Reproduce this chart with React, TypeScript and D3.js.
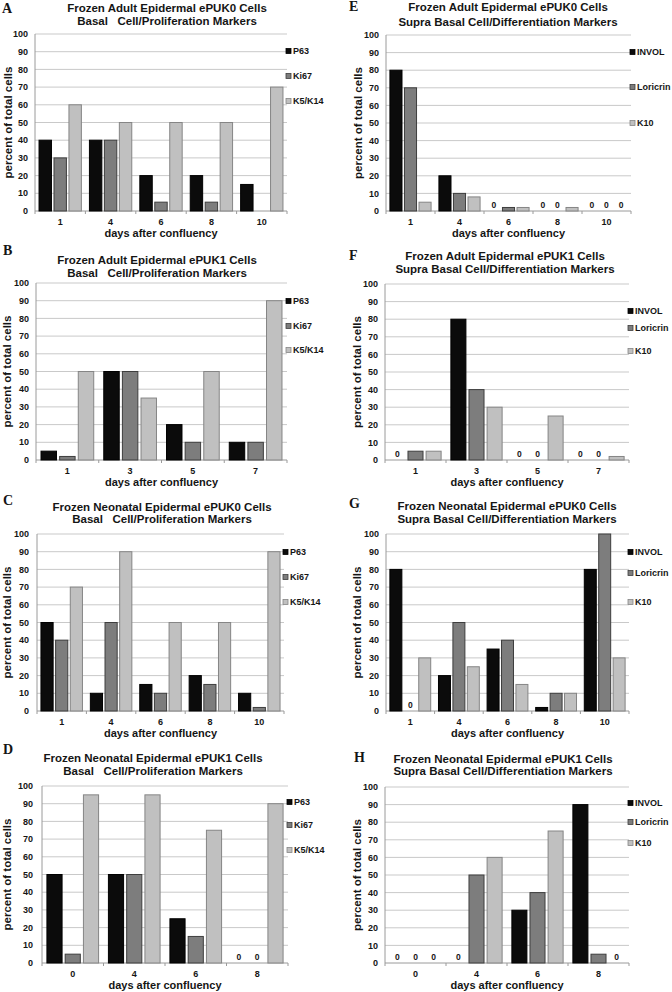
import * as d3 from 'd3'

// marker names
const BASAL = ['P63', 'Ki67', 'K5/K14']
const SUPRA = ['INVOL', 'Loricrin', 'K10']

// A - adult ePUK0, basal
const daysA = ['1', '4', '6', '8', '10']
const p63A = [40, 40, 20, 20, 15]
const ki67A = [30, 40, 5, 5, null]
const k5A = [60, 50, 50, 50, 70]

// B - adult ePUK1, basal
const daysB = ['1', '3', '5', '7']
const p63B = [5, 50, 20, 10]
const ki67B = [2, 50, 10, 10]
const k5B = [50, 35, 50, 90]

// C - neonatal ePUK0, basal
const daysC = ['1', '4', '6', '8', '10']
const p63C = [50, 10, 15, 20, 10]
const ki67C = [40, 50, 10, 15, 2]
const k5C = [70, 90, 50, 50, 90]

// D - neonatal ePUK1, basal
const daysD = ['0', '4', '6', '8']
const p63D = [50, 50, 25, 0]
const ki67D = [5, 50, 15, 0]
const k5D = [95, 95, 75, 90]

// E - adult ePUK0, supra basal
const daysE = ['1', '4', '6', '8', '10']
const involE = [80, 20, 0, 0, 0]
const loriE = [70, 10, 2, 0, 0]
const k10E = [5, 8, 2, 2, 0]

// F - adult ePUK1, supra basal
const daysF = ['1', '3', '5', '7']
const involF = [0, 80, 0, 0]
const loriF = [5, 40, 0, 0]
const k10F = [5, 30, 25, 2]

// G - neonatal ePUK0, supra basal
const daysG = ['1', '4', '6', '8', '10']
const involG = [80, 20, 35, 2, 80]
const loriG = [0, 50, 40, 10, 100]
const k10G = [30, 25, 15, 10, 30]

// H - neonatal ePUK1, supra basal
const daysH = ['0', '4', '6', '8']
const involH = [0, 0, 30, 90]
const loriH = [0, 50, 40, 5]
const k10H = [0, 60, 75, 0]

const yTicks = [0, 10, 20, 30, 40, 50, 60, 70, 80, 90, 100]

const FILL = ['#0b0b0b', '#7d7d7d', '#c0c0c0']
const STROKE = ['#000', '#3e3e3e', '#858585']
const FONT = '"Liberation Sans", Arial, sans-serif'
const INK = '#151515'

const BASAL_T2 = 'Basal   Cell/Proliferation Markers'
const SUPRA_T2 = 'Supra Basal Cell/Differentiation Markers'

const PANELS = [
  { id: 'A', t1: 'Frozen Adult Epidermal ePUK0 Cells', t2: BASAL_T2, names: BASAL, days: daysA, values: [p63A, ki67A, k5A],
    x0: 35, x1: 287, top: 34, bot: 211, tx: 167, t1y: 11.5, t2y: 25, lx: 2, ly: 12.5, leg: [51, 76, 101], ytr: 28, ytx: 8 },
  { id: 'B', t1: 'Frozen Adult Epidermal ePUK1 Cells', t2: BASAL_T2, names: BASAL, days: daysB, values: [p63B, ki67B, k5B],
    x0: 36, x1: 287, top: 283, bot: 460, tx: 157, t1y: 264, t2y: 277, lx: 3, ly: 255, leg: [301, 326, 350], ytr: 29, ytx: 7 },
  { id: 'C', t1: 'Frozen Neonatal Epidermal ePUK0 Cells', t2: BASAL_T2, names: BASAL, days: daysC, values: [p63C, ki67C, k5C],
    x0: 37, x1: 284, top: 534, bot: 711, tx: 162, t1y: 511, t2y: 523, lx: 3, ly: 505, leg: [552, 577, 602], ytr: 29, ytx: 7 },
  { id: 'D', t1: 'Frozen Neonatal Epidermal ePUK1 Cells', t2: BASAL_T2, names: BASAL, days: daysD, values: [p63D, ki67D, k5D],
    x0: 42, x1: 288, top: 786, bot: 963, tx: 153, t1y: 762, t2y: 775, lx: 3, ly: 754, leg: [802, 825, 850], ytr: 33, ytx: 7 },
  { id: 'E', t1: 'Frozen Adult Epidermal ePUK0 Cells', t2: SUPRA_T2, names: SUPRA, days: daysE, values: [involE, loriE, k10E],
    x0: 386, x1: 631, top: 35, bot: 211, tx: 508, t1y: 11, t2y: 26, lx: 349, ly: 11, leg: [52, 87, 123], ytr: 379, ytx: 358 },
  { id: 'F', t1: 'Frozen Adult Epidermal ePUK1 Cells', t2: SUPRA_T2, names: SUPRA, days: daysF, values: [involF, loriF, k10F],
    x0: 385, x1: 629, top: 284, bot: 460, tx: 505, t1y: 260, t2y: 273, lx: 349, ly: 260, leg: [311, 328, 351], ytr: 378, ytx: 357 },
  { id: 'G', t1: 'Frozen Neonatal Epidermal ePUK0 Cells', t2: SUPRA_T2, names: SUPRA, days: daysG, values: [involG, loriG, k10G],
    x0: 386, x1: 629, top: 534, bot: 711, tx: 507, t1y: 510, t2y: 523, lx: 349, ly: 508, leg: [552, 573, 602], ytr: 379, ytx: 357 },
  { id: 'H', t1: 'Frozen Neonatal Epidermal ePUK1 Cells', t2: SUPRA_T2, names: SUPRA, days: daysH, values: [involH, loriH, k10H],
    x0: 385, x1: 629, top: 787, bot: 963, tx: 503, t1y: 763, t2y: 775, lx: 354, ly: 762, leg: [803, 822, 843], ytr: 378, ytx: 357 },
]

function Panel({ p }) {
  const x = d3.scaleBand().domain(p.days).range([p.x0, p.x1]).paddingInner(0.16).paddingOuter(0.08)
  const xs = d3.scaleBand().domain(d3.range(3)).range([0, x.bandwidth()]).paddingInner(0.17)
  const y = d3.scaleLinear().domain([0, 100]).range([p.bot, p.top])
  const step = x.step()
  const bounds = d3.range(p.days.length + 1).map(i => p.x0 + i * step)

  return (
    <g fontFamily={FONT} fontWeight="bold" fill={INK}>
      <text x={p.lx} y={p.ly} fontFamily='"Liberation Serif", "Times New Roman", serif' fontSize={14}>{p.id}</text>
      <text x={p.tx} y={p.t1y} textAnchor="middle" fontSize={11.5}>{p.t1}</text>
      <text x={p.tx} y={p.t2y} textAnchor="middle" fontSize={11.5} style={{ whiteSpace: 'pre' }}>{p.t2}</text>

      {/* gridlines */}
      {yTicks.map(t => (
        <g key={t}>
          <line x1={p.x0} x2={p.x1} y1={y(t)} y2={y(t)} stroke={t === 0 ? '#9a9a9a' : '#c9c9c9'} strokeWidth={1} />
          <text x={p.ytr} y={y(t)} dy="0.35em" textAnchor="end" fontSize={9}>{t}</text>
        </g>
      ))}
      <line x1={p.x0} x2={p.x0} y1={p.top} y2={p.bot} stroke="#9a9a9a" />
      {bounds.map((b, i) => (
        <line key={i} x1={b} x2={b} y1={p.bot} y2={p.bot + 3} stroke="#9a9a9a" />
      ))}

      {/* bars */}
      {p.days.map((d, i) => (
        <g key={d} transform={`translate(${x(d)},0)`}>
          {p.values.map((vals, s) => {
            const v = vals[i]
            if (v == null) return null
            if (v === 0) {
              return (
                <text key={s} x={xs(s) + xs.bandwidth() / 2} y={p.bot - 3} textAnchor="middle" fontSize={8.5}>0</text>
              )
            }
            return (
              <rect key={s} x={xs(s)} y={y(v)} width={xs.bandwidth()} height={p.bot - y(v)}
                fill={FILL[s]} stroke={STROKE[s]} strokeWidth={1} />
            )
          })}
          <text x={x.bandwidth() / 2} y={p.bot + 14} textAnchor="middle" fontSize={9}>{d}</text>
        </g>
      ))}

      {/* axis titles */}
      <text x={(p.x0 + p.x1) / 2} y={p.bot + 26} textAnchor="middle" fontSize={11}>days after confluency</text>
      <text transform={`translate(${p.ytx},${(p.top + p.bot) / 2}) rotate(-90)`} textAnchor="middle" dy="0.35em" fontSize={11.5}>percent of total cells</text>

      {/* legend */}
      {p.names.map((n, s) => (
        <g key={n}>
          <rect x={p.x1 - 1} y={p.leg[s] - 2.5} width={5} height={5} fill={FILL[s]} stroke={STROKE[s]} strokeWidth={0.8} />
          <text x={p.x1 + 6} y={p.leg[s]} dy="0.35em" fontSize={9}>{n}</text>
        </g>
      ))}
    </g>
  )
}

export default function App() {
  return (
    <div>
      <style>{'body{margin:0;background:#fff}'}</style>
      <svg width={672} height={992} style={{ display: 'block' }}>
        <rect width={672} height={992} fill="#fff" />
        {PANELS.map(p => <Panel key={p.id} p={p} />)}
      </svg>
    </div>
  )
}
